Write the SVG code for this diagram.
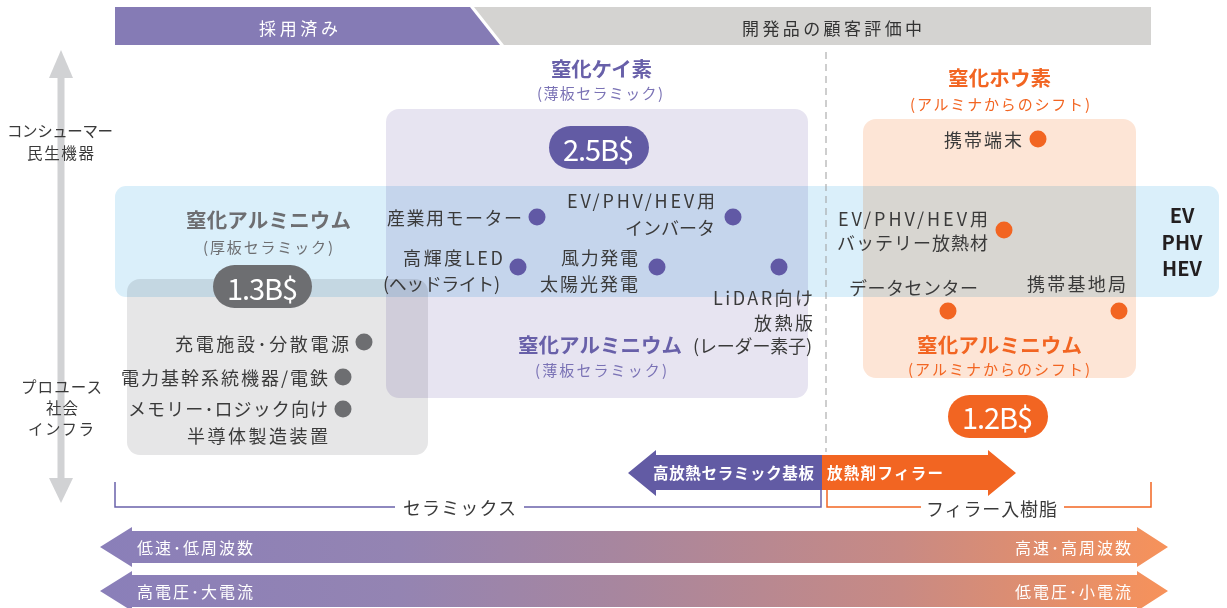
<svg xmlns="http://www.w3.org/2000/svg" width="1227" height="608" viewBox="0 0 1227 608">
<style>
text{font-family:"Noto Sans CJK JP","Noto Sans",sans-serif;dominant-baseline:central}
.lbl{font-size:18px;fill:#3a3a3a}
.axis{font-size:15.5px;fill:#3a3a3a}
.w{fill:#fff}
.b{font-weight:bold}
.pu{fill:#6860a9}
.or{fill:#f26522}
.gy{fill:#6d6e71}
.dk{fill:#231f20}
.box{mix-blend-mode:multiply}
.dotp{fill:#6159a5}
.doto{fill:#f26522}
.dotg{fill:#6d6e71}
.big{font-size:29px;fill:#fff}
.sub{font-size:15px}
</style>
<defs>
<linearGradient id="grad" gradientUnits="userSpaceOnUse" x1="100" y1="0" x2="1168" y2="0">
<stop offset="0" stop-color="#8a7fb9"/>
<stop offset="0.28" stop-color="#9484b2"/>
<stop offset="0.49" stop-color="#a8869e"/>
<stop offset="0.75" stop-color="#c88a84"/>
<stop offset="1" stop-color="#f7925a"/>
</linearGradient>
</defs>

<!-- header -->
<g id="header">
<polygon points="115,7 470,7 500,45 115,45" fill="#857bb5"/>
<polygon points="474,7 1151,7 1151,45 504,45" fill="#d4d3d1"/>
<text x="259" y="27" class="w" font-size="17" textLength="79" lengthAdjust="spacing">採用済み</text>
<text x="742" y="27" font-size="17" fill="#333" textLength="180" lengthAdjust="spacing">開発品の顧客評価中</text>
</g>

<!-- vertical axis -->
<g id="axis">
<line x1="61" y1="74" x2="61" y2="482" stroke="#d1d2d4" stroke-width="7"/>
<polygon points="61,50 49,78 73,78" fill="#d1d2d4"/>
<polygon points="61,503 49,478 73,478" fill="#d1d2d4"/>
<text x="7" y="130" class="axis" textLength="106" lengthAdjust="spacing">コンシューマー</text>
<text x="27" y="152" class="axis" textLength="67" lengthAdjust="spacing">民生機器</text>
<text x="21" y="386" class="axis" textLength="81" lengthAdjust="spacing">プロユース</text>
<text x="46" y="407" class="axis" textLength="32" lengthAdjust="spacing">社会</text>
<text x="28" y="428" class="axis" textLength="66" lengthAdjust="spacing">インフラ</text>
</g>

<!-- regions -->
<g id="regions">
<rect class="box" x="127" y="279" width="301" height="176" rx="13" fill="#e6e6e7"/>
<rect class="box" x="386" y="109" width="422" height="289" rx="13" fill="#e7e4f1"/>
<rect class="box" x="863" y="119" width="273" height="259" rx="13" fill="#fde5d6"/>
<rect class="box" x="115" y="186" width="1104" height="111" rx="11" fill="#daeffa"/>
</g>

<line id="divider" x1="826" y1="52" x2="826" y2="452" stroke="#9d9d9d" stroke-width="1" stroke-dasharray="7 5"/>

<!-- silicon nitride -->
<g id="sin-title">
<text x="551" y="68" class="b pu" font-size="20.5" textLength="101" lengthAdjust="spacing">窒化ケイ素</text>
<text x="537" y="92" class="sub" fill="#7a72b5" textLength="126" lengthAdjust="spacing">(薄板セラミック)</text>
<rect x="549" y="126" width="100" height="43" rx="21.5" fill="#625ba4"/>
<text x="563" y="148" class="big" textLength="71" lengthAdjust="spacing">2.5B$</text>
</g>

<!-- AlN thick -->
<g id="aln-thick">
<text x="186" y="219" class="b gy" font-size="20.5" textLength="165" lengthAdjust="spacing">窒化アルミニウム</text>
<text x="203" y="246" class="gy sub" textLength="130" lengthAdjust="spacing">(厚板セラミック)</text>
<rect x="213" y="265" width="99" height="43" rx="21.5" fill="#6d6e71"/>
<text x="227" y="287" class="big" textLength="71" lengthAdjust="spacing">1.3B$</text>
</g>

<!-- BN -->
<g id="bn-title">
<text x="948" y="77" class="b or" font-size="20.5" textLength="103" lengthAdjust="spacing">窒化ホウ素</text>
<text x="910" y="103" class="or sub" textLength="180" lengthAdjust="spacing">(アルミナからのシフト)</text>
</g>

<!-- purple nodes -->
<g id="n-motor">
<text x="387" y="217" class="lbl" textLength="135" lengthAdjust="spacing">産業用モーター</text>
<circle cx="537" cy="217" r="8.5" class="dotp"/>
</g>
<g id="n-inverter">
<text x="567" y="200" class="lbl" textLength="148" lengthAdjust="spacing">EV/PHV/HEV用</text>
<text x="625" y="227" class="lbl" textLength="90" lengthAdjust="spacing">インバータ</text>
<circle cx="733" cy="217" r="8.5" class="dotp"/>
</g>
<g id="n-led">
<text x="403" y="257" class="lbl" textLength="100" lengthAdjust="spacing">高輝度LED</text>
<text x="383" y="283" class="lbl" textLength="117" lengthAdjust="spacing">(ヘッドライト)</text>
<circle cx="518" cy="267" r="8.5" class="dotp"/>
</g>
<g id="n-wind">
<text x="561" y="257" class="lbl" textLength="77" lengthAdjust="spacing">風力発電</text>
<text x="540" y="283" class="lbl" textLength="98" lengthAdjust="spacing">太陽光発電</text>
<circle cx="657" cy="267" r="8.5" class="dotp"/>
</g>
<g id="n-lidar">
<circle cx="779" cy="267" r="8.5" class="dotp"/>
<text x="713" y="297" class="lbl" textLength="100" lengthAdjust="spacing">LiDAR向け</text>
<text x="754" y="322" class="lbl" textLength="59" lengthAdjust="spacing">放熱版</text>
</g>
<g id="aln-thin">
<text x="518" y="344" class="b pu" font-size="20.5" textLength="164" lengthAdjust="spacing">窒化アルミニウム</text>
<text x="693" y="345" class="lbl" textLength="119" lengthAdjust="spacing">(レーダー素子)</text>
<text x="535" y="369" class="sub" fill="#7a72b5" textLength="132" lengthAdjust="spacing">(薄板セラミック)</text>
</g>

<!-- gray nodes -->
<g id="n-charge">
<text x="175" y="343" class="lbl" textLength="174" lengthAdjust="spacing">充電施設･分散電源</text>
<circle cx="364" cy="342" r="8.5" class="dotg"/>
</g>
<g id="n-grid">
<text x="121" y="377" class="lbl" textLength="207" lengthAdjust="spacing">電力基幹系統機器/電鉄</text>
<circle cx="343" cy="377" r="8.5" class="dotg"/>
</g>
<g id="n-semi">
<text x="128" y="408" class="lbl" textLength="200" lengthAdjust="spacing">メモリー･ロジック向け</text>
<text x="187" y="435" class="lbl" textLength="141" lengthAdjust="spacing">半導体製造装置</text>
<circle cx="343" cy="409" r="8.5" class="dotg"/>
</g>

<!-- orange nodes -->
<g id="n-mobile">
<text x="944" y="139" class="lbl" textLength="78" lengthAdjust="spacing">携帯端末</text>
<circle cx="1038" cy="139" r="8.5" class="doto"/>
</g>
<g id="n-battery">
<text x="838" y="218" class="lbl" textLength="150" lengthAdjust="spacing">EV/PHV/HEV用</text>
<text x="837" y="242" class="lbl" textLength="151" lengthAdjust="spacing">バッテリー放熱材</text>
<circle cx="1004" cy="230" r="8.5" class="doto"/>
</g>
<g id="n-dc">
<text x="849" y="287" class="lbl" textLength="129" lengthAdjust="spacing">データセンター</text>
<circle cx="948" cy="311" r="8.5" class="doto"/>
</g>
<g id="n-base">
<text x="1027" y="283" class="lbl" textLength="99" lengthAdjust="spacing">携帯基地局</text>
<circle cx="1119" cy="311" r="8.5" class="doto"/>
</g>
<g id="aln-shift">
<text x="917" y="344" class="b or" font-size="20.5" textLength="165" lengthAdjust="spacing">窒化アルミニウム</text>
<text x="908" y="368" class="or sub" textLength="182" lengthAdjust="spacing">(アルミナからのシフト)</text>
<rect x="948" y="395" width="100" height="43" rx="21.5" fill="#f26522"/>
<text x="962" y="416" class="big" textLength="71" lengthAdjust="spacing">1.2B$</text>
</g>

<g id="ev-label">
<text x="1182" y="214" class="b dk" font-size="20" text-anchor="middle">EV</text>
<text x="1182" y="241" class="b dk" font-size="20" text-anchor="middle">PHV</text>
<text x="1182" y="267" class="b dk" font-size="20" text-anchor="middle">HEV</text>
</g>

<!-- connectors / arrows -->
<g id="connectors">
<polygon points="628,473 656,450 656,455 822,455 822,490 656,490 656,496" fill="#625ba4"/>
<polygon points="822,455 988,455 988,450 1016,473 988,496 988,490 822,490" fill="#f26522"/>
<text x="653" y="472" class="b w" font-size="15.5" textLength="161" lengthAdjust="spacing">高放熱セラミック基板</text>
<text x="827" y="472" class="b w" font-size="15.5" textLength="116" lengthAdjust="spacing">放熱剤フィラー</text>

<path d="M115,482 V507 H395 M524,507 H821 V490" fill="none" stroke="#6a62aa" stroke-width="1.5"/>
<text x="403" y="507" class="lbl" textLength="113" lengthAdjust="spacing">セラミックス</text>
<path d="M827,490 V507 H921 M1064,507 H1151 V482" fill="none" stroke="#f26522" stroke-width="1.5"/>
<text x="926" y="508" class="lbl" textLength="131" lengthAdjust="spacing">フィラー入樹脂</text>

<polygon points="100,547 132,527 132,531 1137,531 1137,527 1168,547 1137,567 1137,563 132,563 132,567" fill="url(#grad)"/>
<polygon points="100,591 132,571 132,575 1137,575 1137,571 1168,591 1137,611 1137,607 132,607 132,611" fill="url(#grad)"/>
<text x="137" y="547" class="w" font-size="16" textLength="116" lengthAdjust="spacing">低速･低周波数</text>
<text x="137" y="591" class="w" font-size="16" textLength="116" lengthAdjust="spacing">高電圧･大電流</text>
<text x="1015" y="547" class="w" font-size="16" textLength="116" lengthAdjust="spacing">高速･高周波数</text>
<text x="1015" y="591" class="w" font-size="16" textLength="116" lengthAdjust="spacing">低電圧･小電流</text>
</g>
</svg>
